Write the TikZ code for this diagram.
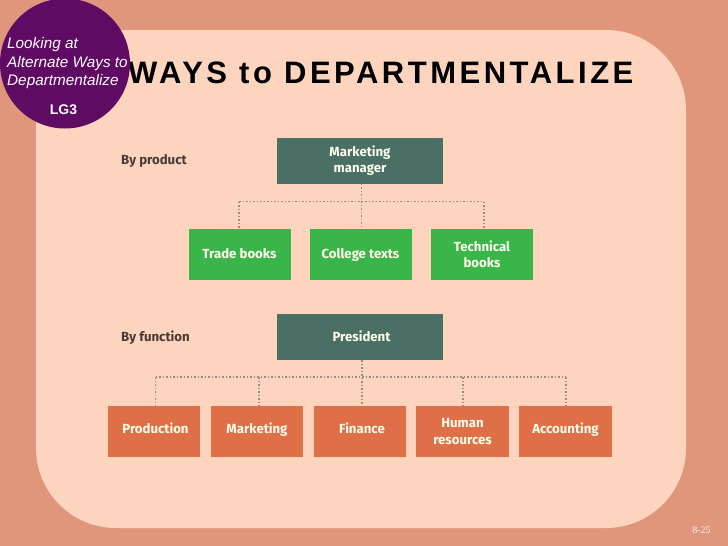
\documentclass[tikz,border=0pt]{standalone}
\usepackage{fontspec}
\setmainfont{Liberation Sans}
\newfontfamily\titlefont[LetterSpace=11.3]{Liberation Sans}
\newfontfamily\labelfont{Fira Sans}
\newfontfamily\pagefont{Liberation Serif}
\definecolor{bgc}{HTML}{E0967A}
\definecolor{panelc}{HTML}{FDD5BE}
\definecolor{circlec}{HTML}{5F0B64}
\definecolor{headc}{HTML}{4A6F64}
\definecolor{greenc}{HTML}{3AB54A}
\definecolor{orangec}{HTML}{DE6F47}
\definecolor{linkc}{HTML}{9A8C80}
\definecolor{sidec}{HTML}{4A3A35}
\newcommand{\oneline}[2]{\raisebox{#1}[0pt][0pt]{#2}}
\tikzset{
  boxbase/.style={rectangle,draw=none,inner sep=0pt,align=center,text=white!92!yellow,
    font=\labelfont\fontsize{13.2}{16.2}\selectfont\bfseries},
  headbox/.style={boxbase,fill=headc,minimum width=166,minimum height=46},
  prodbox/.style={boxbase,fill=greenc,minimum width=102,minimum height=51},
  funcbox/.style={boxbase,fill=orangec,minimum width=92.5,minimum height=51},
  sidelabel/.style={anchor=west,inner sep=0pt,text=sidec,font=\labelfont\fontsize{13.2}{15}\selectfont\bfseries},
  link/.style={draw=linkc,line width=1.6pt,dash pattern=on 1.6pt off 1.9pt},
  x=1pt,y=-1pt
}
\begin{document}
\begin{tikzpicture}
\useasboundingbox (0,0) rectangle (728,546);
\fill[bgc] (0,0) rectangle (728,546);
\fill[panelc,rounded corners=80] (36,30) rectangle (686,528);
\node[anchor=west,inner sep=0pt,font=\titlefont\fontsize{31}{36}\selectfont\bfseries] (title) at (128,72.5) {WAYS to DEPARTMENTALIZE};
\fill[circlec] (65,63.5) circle[radius=65];
\node[anchor=north west,inner sep=0pt,align=left,text=white,font=\fontsize{15.3}{18.8}\selectfont\itshape] (side) at (7,37) {Looking at\\Alternate Ways to\\Departmentalize};
\node[text=white,inner sep=0pt,font=\fontsize{14}{16}\selectfont\bfseries] (lg) at (63.5,110) {LG3};

\node[sidelabel] (byp) at (121,160.5) {By product};
\node[sidelabel] (byf) at (121,337.5) {By function};

\node[headbox] (mm) at (360,160.5) {Marketing\\manager};
\node[prodbox] (tb) at (239.5,254.5) {\oneline{-4pt}{Trade books}};
\node[prodbox] (ct) at (360.5,254.5) {\oneline{-4pt}{College texts}};
\node[prodbox] (tk) at (482,254.5) {Technical\\books};

\node[headbox] (pr) at (360,337) {\oneline{-4.5pt}{\hspace*{3pt}President}};
\node[funcbox] (pd) at (154,431.5) {\oneline{-2pt}{\hspace*{3pt}Production}};
\node[funcbox] (mk) at (257,431.5) {\oneline{-2pt}{Marketing}};
\node[funcbox] (fi) at (360,431.5) {\oneline{-2pt}{\hspace*{4pt}Finance}};
\node[funcbox] (hr) at (462.5,431.5) {Human\\resources};
\node[funcbox] (ac) at (565.5,431.5) {\oneline{-2pt}{Accounting}};

\coordinate (pj) at (361.5,201.5);
\coordinate (pl) at (239,201.5);
\coordinate (pr2) at (484,201.5);
\draw[link] (mm.south -| pj) -- (pj) -- (pj |- ct.north);
\draw[link] (pl) -- (pr2);
\draw[link] (pl) -- (pl |- tb.north);
\draw[link] (pr2) -- (pr2 |- tk.north);

\coordinate (fj) at (362,377);
\coordinate (fl) at (155.5,377);
\coordinate (fm) at (259,377);
\coordinate (fh) at (463,377);
\coordinate (fr) at (566,377);
\draw[link] (pr.south -| fj) -- (fj) -- (fj |- fi.north);
\draw[link] (fl) -- (fr);
\draw[link] (fl) -- (fl |- pd.north);
\draw[link] (fm) -- (fm |- mk.north);
\draw[link] (fh) -- (fh |- hr.north);
\draw[link] (fr) -- (fr |- ac.north);

\node[text=white!85!bgc,inner sep=0pt,font=\pagefont\fontsize{10}{12}\selectfont] (pg) at (701.5,530) {8-25};
\end{tikzpicture}
\end{document}
